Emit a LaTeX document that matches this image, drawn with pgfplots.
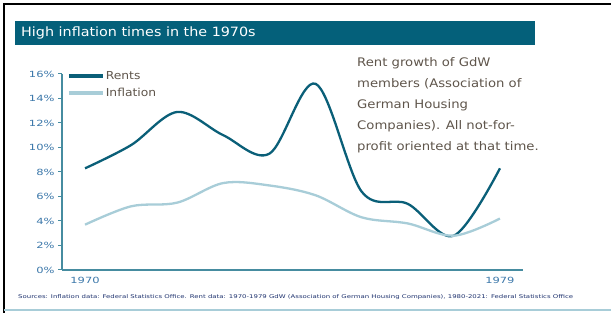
\documentclass[border=0pt]{standalone}
\usepackage{fontspec}
\setmainfont{DejaVu Sans}
\newfontfamily\wfont[FakeStretch=1.35]{DejaVu Sans}
\newfontfamily\tfont[FakeStretch=1.12]{DejaVu Sans}
\usepackage{pgfplots}
\pgfplotsset{compat=1.18}
\definecolor{rentc}{RGB}{10,95,120}
\definecolor{inflc}{RGB}{168,205,216}
\definecolor{barc}{RGB}{4,96,122}
\definecolor{axc}{RGB}{70,140,160}
\definecolor{tickc}{RGB}{60,120,170}
\definecolor{annc}{RGB}{95,85,75}
\definecolor{footc}{RGB}{30,50,110}
\begin{document}
\begin{tikzpicture}[x=1pt,y=1pt]
\useasboundingbox (0,0) rectangle (611,313);
\clip (0,0) rectangle (611,313);
\fill[white] (0,0) rectangle (611,313);
% frame
\draw[black,line width=2pt] (4,0) -- (4,309) -- (611,309);
\draw[inflc,line width=1.5pt] (4,3) -- (611,3);
% title bar
\fill[barc] (15,268) rectangle (535,292);
\node[anchor=west,text=white,font=\tfont\fontsize{12.8}{15}\selectfont,inner sep=0pt] at (21,280) {High inflation times in the 1970s};
% annotation
\node[anchor=north west,align=left,text=annc,font=\tfont\fontsize{11.8}{21}\selectfont,inner sep=0pt] at (357,256)
 {Rent growth of GdW\\members (Association of\\German Housing\\Companies). All not-for-\\profit oriented at that time.};
% footer
\node[anchor=west,text=footc,font=\wfont\fontsize{5.15}{6}\selectfont,inner sep=0pt] at (18,16)
 {Sources: Inflation data: Federal Statistics Office. Rent data: 1970-1979 GdW (Association of German Housing Companies), 1980-2021: Federal Statistics Office};
\begin{axis}[
  at={(62pt,43pt)}, anchor=south west,
  scale only axis, width=461pt, height=196pt,
  xmin=1969.5, xmax=1979.5, ymin=0, ymax=16,
  axis x line=bottom, axis y line=left,
  axis line style={-, draw=axc, line width=1.5pt},
  xtick={1970,1979}, xticklabels={1970,1979},
  ytick={0,2,...,16},
  yticklabels={0\%,2\%,4\%,6\%,8\%,10\%,12\%,14\%,16\%},
  /pgf/number format/assume math mode=true,
  major x tick style={draw=none},
  major y tick style={draw=axc, line width=1pt},
  tick align=outside, major tick length=4pt,
  x tick label style={font=\wfont\fontsize{8.5}{9}\selectfont, text=tickc},
  y tick label style={font=\wfont\fontsize{8.5}{9}\selectfont, text=tickc},
  clip=false,
  legend style={at={(rel axis cs:0.01,1.02)}, anchor=north west, draw=none, fill=none,
     font=\tfont\fontsize{11}{12}\selectfont, text=annc, row sep=5pt,
     inner sep=0pt, nodes={inner sep=1pt}},
  legend cell align=left,
  legend image code/.code={\draw[#1,line width=4pt] (0pt,0pt) -- (34pt,0pt);},
]
\addplot[rentc, line width=2.3pt, smooth, tension=0.55] coordinates {
 (1970,8.3) (1971,10.2) (1972,12.9) (1973,11.0) (1974,9.5)
 (1975,15.2) (1976,6.4) (1977,5.4) (1978,2.8) (1979,8.3)};
\addlegendentry{Rents}
\addplot[inflc, line width=2.3pt, smooth, tension=0.55] coordinates {
 (1970,3.7) (1971,5.2) (1972,5.5) (1973,7.1) (1974,6.9)
 (1975,6.1) (1976,4.3) (1977,3.8) (1978,2.8) (1979,4.2)};
\addlegendentry{Inflation}
\end{axis}
\end{tikzpicture}
\end{document}
